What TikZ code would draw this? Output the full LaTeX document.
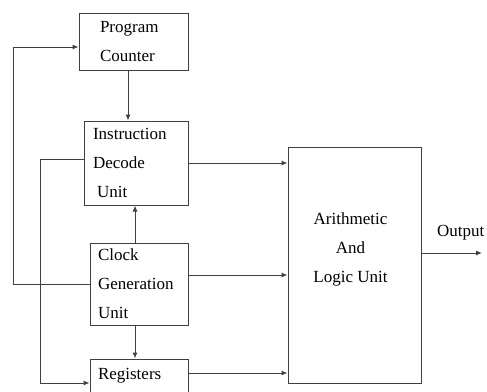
\documentclass[tikz,border=0pt]{standalone}
\usepackage{fontspec}
\setmainfont{Liberation Serif}
\usepackage{tikz}
\usetikzlibrary{positioning,calc,arrows.meta}

\begin{document}
\begin{tikzpicture}[x=1pt, y=-1pt,
    every node/.style={font=\fontsize{17}{29}\selectfont},
    blk/.style={draw=black!75, line width=1pt, align=left, inner ysep=0pt},
    wire/.style={draw=black!75, line width=1pt},
    arr/.style={wire, -{Latex[length=6pt,width=5pt]}}]
    \useasboundingbox (0,0) rectangle (487,391);
    \clip (0,0) rectangle (487,391);

    % blocks
    \node[blk, minimum width=109, minimum height=57, text width=67, inner xsep=21] (pc) at (133.5,41.5) {Program\\Counter};
    \node[blk, minimum width=104, minimum height=84, text width=86, inner xsep=9] (idu) at (136,163) {Instruction\\Decode\\\hspace*{4pt}Unit};
    \node[blk, minimum width=98, minimum height=82, text width=82, inner xsep=8] (clk) at (139,284) {Clock\\Generation\\Unit};
    \node[blk, minimum width=98, minimum height=34, text width=82, inner xsep=8] (regs) at (139,376) {Registers};
    \node[blk, minimum width=133, minimum height=236] (alu) at (354.5,265) {};
    \node[align=center] (alutxt) at ([xshift=-4pt,yshift=16pt]alu.center) {Arithmetic\\And\\Logic Unit};

    % output
    \coordinate (outend) at (482,253);
    \node[anchor=base west, inner sep=0pt] (outlbl) at (437,236) {Output};
    \draw[arr] ([yshift=12pt]alu.east) -- (outend);

    % vertical flow
    \draw[arr] ([xshift=-5.5pt]pc.south) -- ([xshift=-5.5pt]pc.south |- idu.north);
    \draw[arr] ([xshift=-4pt]clk.north) -- ([xshift=-4pt]clk.north |- idu.south);
    \draw[arr] ([xshift=-4pt]clk.south) -- ([xshift=-4pt]clk.south |- regs.north);

    % into the ALU
    \draw[arr] (idu.east) -- (idu.east -| alu.west);
    \draw[arr] ([yshift=9pt]clk.east) -- ([yshift=9pt]clk.east -| alu.west);
    \draw[arr] ([yshift=3pt]regs.east) -- ([yshift=3pt]regs.east -| alu.west);

    % feedback lines on the left
    \draw[arr] (clk.west) -- (13,284) -- (13,47) -- ([yshift=-5.5pt]pc.west);
    \draw[arr] ([yshift=4pt]idu.west) -- (40,159) -- (40,383) -- ([yshift=-7pt]regs.west);
\end{tikzpicture}
\end{document}
